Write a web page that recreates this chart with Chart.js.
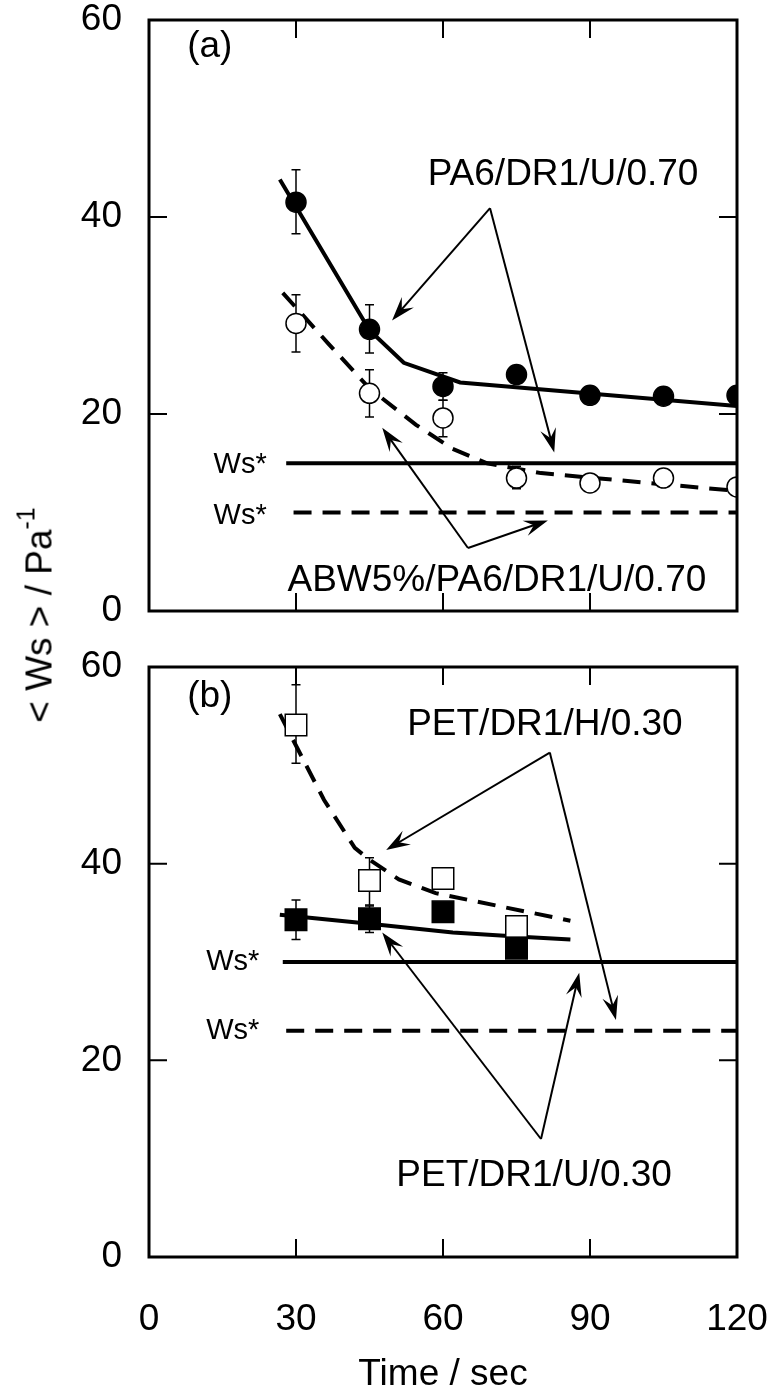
<!DOCTYPE html>
<html><head><meta charset="utf-8">
<script src="https://cdn.jsdelivr.net/npm/chart.js@4.4.1/dist/chart.umd.min.js"></script>
<style>
html,body{margin:0;padding:0;background:#fff;}
#wrap{position:relative;width:771px;height:1398px;overflow:hidden;background:#fff;}
#ca{position:absolute;left:0;top:0;}
#cb{position:absolute;left:0;top:640px;}
#ytitle{position:absolute;left:39px;top:615px;transform:translate(-50%,-50%) rotate(-90deg);font:37px "Liberation Sans",Arial,sans-serif;white-space:nowrap;color:#000;line-height:1;}
#ytitle sup{font-size:25px;vertical-align:0;position:relative;top:-17px;}
</style></head>
<body><div id="wrap">
<canvas id="ca" width="771" height="640"></canvas>
<canvas id="cb" width="771" height="758"></canvas>
<div id="ytitle">&lt; Ws &gt; / Pa<sup>-1</sup></div>
</div>
<script>
const FONT = '"Liberation Sans", Arial, sans-serif';

// ---------- axis ticks ----------
const xTickValues = [0, 30, 60, 90, 120];
const yTickValues = [0, 20, 40, 60];

// ---------- panel (a) ----------
const timesA = [30, 45, 60, 75, 90, 105, 120];
const pa6Values = [41.5, 28.6, 22.8, 24.0, 21.9, 21.8, 21.9];
const pa6ErrLow = [38.3, 26.2, 21.4, null, null, null, null];
const pa6ErrHigh = [44.8, 31.1, 24.2, null, null, null, null];
const abwValues = [29.2, 22.1, 19.6, 13.5, 13.0, 13.5, 12.6];
const abwErrLow = [26.3, 19.7, 17.7, 12.4, null, null, null];
const abwErrHigh = [32.1, 24.5, 21.4, 14.7, null, null, null];
const pa6FitTimes = [26.7, 45, 52, 63.5, 120];
const pa6FitValues = [43.8, 28.5, 25.2, 23.2, 20.8];
const abwFitTimes = [27.3, 36.5, 45, 54.5, 61.8, 69, 80, 104, 120];
const abwFitValues = [32.3, 27.2, 22.6, 18.9, 16.5, 15.0, 14.0, 12.9, 12.2];
const wsStarA = [15, 10];          // solid, dashed
const wsStarStartA = [28, 29.5];
// arrows: [fromTime, fromValue, toTime, toValue]
const arrowsA = [[69.6, 40.9, 49.6, 29.5], [69.6, 40.9, 82.7, 16.1], [65.1, 6.4, 47.6, 18.6], [65.1, 6.4, 81.4, 9.2]];
const labelsA = ['(a)', 'PA6/DR1/U/0.70', 'ABW5%/PA6/DR1/U/0.70', 'Ws*', 'Ws*'];
const labelTimesA = [12.4, 84.5, 71.0, 18.6, 18.6];
const labelValuesA = [57.3, 44.3, 3.1, 14.8, 9.6];

// ---------- panel (b) ----------
const timesB = [30, 45, 60, 75];
const petHValues = [54.1, 38.3, 38.5, 33.6];
const petHErrLow = [50.2, 35.8, null, null];
const petHErrHigh = [58.2, 40.6, null, null];
const petUValues = [34.3, 34.4, 35.1, 31.4];
const petUErrLow = [32.3, 33.0, null, null];
const petUErrHigh = [36.3, 35.7, null, null];
const petHFitTimes = [26.7, 35.7, 42, 45, 51, 58.5, 86];
const petHFitValues = [55.2, 46.5, 41.6, 40.4, 38.4, 37.0, 34.2];
const petUFitTimes = [26.7, 45, 62, 75, 86];
const petUFitValues = [34.8, 33.9, 33.0, 32.6, 32.3];
const wsStarB = [30, 23];
const wsStarStartB = [27.3, 28];
const arrowsB = [[81.8, 51.3, 48.4, 41.4], [81.8, 51.3, 95.3, 24.1], [80.0, 12.0, 47.6, 33.0], [80.0, 12.0, 87.8, 28.9]];
const labelsB = ['(b)', 'PET/DR1/H/0.30', 'PET/DR1/U/0.30', 'Ws*', 'Ws*'];
const labelTimesB = [12.4, 80.8, 78.6, 17.1, 17.1];
const labelValuesB = [57.0, 54.1, 8.3, 30.0, 23.0];

// ---------- helpers ----------
const pts = (ts, vs) => ts.map((t, i) => ({x: t, y: vs[i]}));
const labelSizes = {'(a)': 37, '(b)': 37, 'Ws*': 29};

function markerSet(ts, vs, style, filled, radius) {
  return {data: pts(ts, vs), showLine: false, pointStyle: style, pointRadius: radius, pointHoverRadius: radius,
    pointBackgroundColor: filled ? '#000' : '#fff', pointBorderColor: '#000', pointBorderWidth: 1.5, order: 0};
}
function lineSet(ts, vs, dashed) {
  return {data: pts(ts, vs), showLine: true, pointRadius: 0, pointHoverRadius: 0, borderColor: '#000',
    borderWidth: 4, borderDash: dashed ? [18, 11] : [], fill: false, tension: 0, order: 1};
}

function drawArrow(ctx, x1, y1, x2, y2) {
  const a = Math.atan2(y2 - y1, x2 - x1), c = Math.cos(a), s = Math.sin(a);
  const L = 24, W = 8;
  ctx.beginPath(); ctx.moveTo(x1, y1); ctx.lineTo(x2 - 12 * c, y2 - 12 * s); ctx.stroke();
  const bx = x2 - L * c, by = y2 - L * s;
  ctx.beginPath();
  ctx.moveTo(x2, y2);
  ctx.lineTo(bx + W * s, by - W * c);
  ctx.lineTo(x2 - 0.62 * L * c, y2 - 0.62 * L * s);
  ctx.lineTo(bx - W * s, by + W * c);
  ctx.closePath(); ctx.fill();
}

const panelPlugin = {
  id: 'panel',
  beforeDatasetsDraw(chart, args, o) {
    const ctx = chart.ctx, xs = chart.scales.x, ys = chart.scales.y;
    ctx.save(); ctx.strokeStyle = '#000'; ctx.lineWidth = 1.5;
    o.errs.forEach(e => {
      e.t.forEach((t, i) => {
        if (e.lo[i] == null) return;
        const x = xs.getPixelForValue(t), y1 = ys.getPixelForValue(e.lo[i]), y2 = ys.getPixelForValue(e.hi[i]);
        ctx.beginPath();
        ctx.moveTo(x, y1); ctx.lineTo(x, y2);
        ctx.moveTo(x - 4.5, y1); ctx.lineTo(x + 4.5, y1);
        ctx.moveTo(x - 4.5, y2); ctx.lineTo(x + 4.5, y2);
        ctx.stroke();
      });
    });
    ctx.restore();
  },
  afterDatasetsDraw(chart, args, o) {
    const ctx = chart.ctx, xs = chart.scales.x, ys = chart.scales.y, ca = chart.chartArea;
    ctx.save();
    ctx.strokeStyle = '#000'; ctx.fillStyle = '#000';
    // inward ticks
    ctx.lineWidth = 2;
    ctx.beginPath();
    xTickValues.forEach(v => {
      const x = xs.getPixelForValue(v);
      ctx.moveTo(x, ca.bottom); ctx.lineTo(x, ca.bottom - 18);
      ctx.moveTo(x, ca.top); ctx.lineTo(x, ca.top + 18);
    });
    yTickValues.forEach(v => {
      const y = ys.getPixelForValue(v);
      ctx.moveTo(ca.left, y); ctx.lineTo(ca.left + 18, y);
      ctx.moveTo(ca.right, y); ctx.lineTo(ca.right - 18, y);
    });
    ctx.stroke();
    // frame
    ctx.lineWidth = 3;
    ctx.strokeRect(ca.left, ca.top, ca.right - ca.left, ca.bottom - ca.top);
    // arrows
    ctx.lineWidth = 2;
    o.arrows.forEach(a => drawArrow(ctx, xs.getPixelForValue(a[0]), ys.getPixelForValue(a[1]),
      xs.getPixelForValue(a[2]), ys.getPixelForValue(a[3])));
    // labels
    ctx.textAlign = 'center'; ctx.textBaseline = 'middle';
    o.labels.forEach((txt, i) => {
      ctx.font = (labelSizes[txt] || 37) + 'px ' + FONT;
      ctx.fillText(txt, xs.getPixelForValue(o.lt[i]), ys.getPixelForValue(o.lv[i]));
    });
    ctx.restore();
  }
};

function makeChart(id, datasets, extra, showX, padTop, xHeight) {
  return new Chart(document.getElementById(id), {
    type: 'scatter',
    data: {datasets},
    plugins: [panelPlugin],
    options: {
      responsive: false, animation: false, devicePixelRatio: 1,
      layout: {padding: {left: 0, right: 34, top: padTop, bottom: 0}},
      plugins: {legend: {display: false}, tooltip: {enabled: false}, panel: extra},
      scales: {
        x: {
          type: 'linear', min: 0, max: 120,
          afterBuildTicks: s => { s.ticks = xTickValues.map(v => ({value: v})); },
          afterFit: s => { s.height = xHeight; s.paddingLeft = 0; s.paddingRight = 0; s.paddingTop = 0; s.paddingBottom = 0; },
          grid: {display: false, drawTicks: false}, border: {display: false},
          ticks: {display: showX, padding: 41, color: '#000', font: {family: FONT, size: 37}, maxRotation: 0, autoSkip: false},
          title: {display: showX, text: 'Time / sec', color: '#000', font: {family: FONT, size: 37}, padding: {top: 0, bottom: 1}}
        },
        y: {
          type: 'linear', min: 0, max: 60,
          afterBuildTicks: s => { s.ticks = yTickValues.map(v => ({value: v})); },
          afterFit: s => { s.width = 149; s.paddingTop = 0; s.paddingBottom = 0; s.paddingLeft = 0; s.paddingRight = 0; },
          grid: {display: false, drawTicks: false}, border: {display: false},
          ticks: {padding: 27, color: '#000', font: {family: FONT, size: 37}}
        }
      }
    }
  });
}

makeChart('ca', [
  markerSet(timesA, pa6Values, 'circle', true, 10),
  markerSet(timesA, abwValues, 'circle', false, 10),
  lineSet(pa6FitTimes, pa6FitValues, false),
  lineSet(abwFitTimes, abwFitValues, true),
  lineSet([wsStarStartA[0], 120], [wsStarA[0], wsStarA[0]], false),
  lineSet([wsStarStartA[1], 120], [wsStarA[1], wsStarA[1]], true)
], {
  errs: [{t: timesA, lo: pa6ErrLow, hi: pa6ErrHigh}, {t: timesA, lo: abwErrLow, hi: abwErrHigh}],
  arrows: arrowsA, labels: labelsA, lt: labelTimesA, lv: labelValuesA
}, false, 20, 29);

makeChart('cb', [
  markerSet(timesB, petUValues, 'rect', true, 15.2),
  markerSet(timesB, petHValues, 'rect', false, 15.2),
  lineSet(petHFitTimes, petHFitValues, true),
  lineSet(petUFitTimes, petUFitValues, false),
  lineSet([wsStarStartB[0], 120], [wsStarB[0], wsStarB[0]], false),
  lineSet([wsStarStartB[1], 120], [wsStarB[1], wsStarB[1]], true)
], {
  errs: [{t: timesB, lo: petHErrLow, hi: petHErrHigh}, {t: timesB, lo: petUErrLow, hi: petUErrHigh}],
  arrows: arrowsB, labels: labelsB, lt: labelTimesB, lv: labelValuesB
}, true, 27, 141);
</script>
</body></html>
